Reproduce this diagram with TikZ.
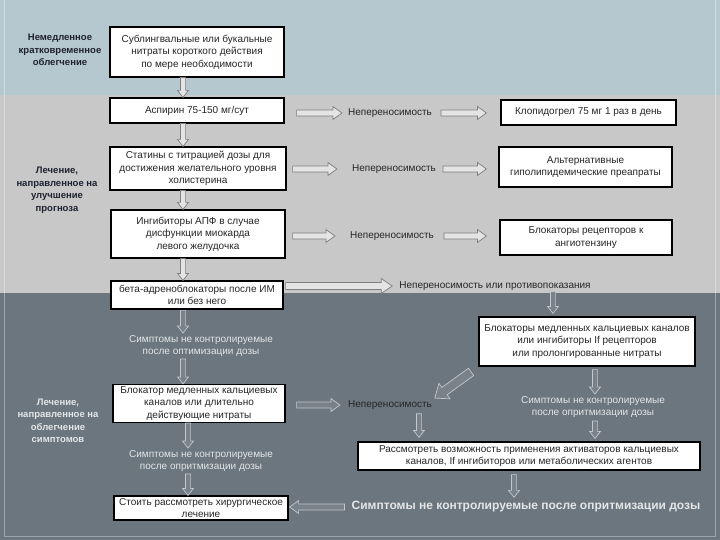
\documentclass[tikz,border=0pt]{standalone}
\usepackage{fontspec}
\setmainfont{Liberation Sans}
\usetikzlibrary{calc}
\definecolor{bandtop}{HTML}{B5C7CF}
\definecolor{bandmid}{HTML}{C8C8C8}
\definecolor{bandbot}{HTML}{6B767E}
\definecolor{boxtext}{HTML}{262626}
\definecolor{lbl}{HTML}{1E2230}
\definecolor{lighttext}{HTML}{E4E6E8}
\definecolor{arrLdraw}{HTML}{7E7E7E}
\definecolor{arrLfill}{HTML}{E4E4E4}
\definecolor{arrDdraw}{HTML}{C4C8CC}
\definecolor{arrDfill}{HTML}{78828A}
\tikzset{
  box/.style={draw=black, fill=white, line width=1.2pt, align=center, inner sep=2pt,
    text=boxtext, font=\fontsize{10}{12.5}\selectfont},
  note/.style={align=center, inner sep=1pt, text=boxtext, font=\fontsize{10}{12.5}\selectfont},
  whitenote/.style={note, text=lighttext},
  sidelabel/.style={align=center, inner sep=1pt, text=lbl, font=\bfseries\fontsize{9.5}{12.5}\selectfont},
  arrL/.style={draw=arrLdraw, fill=arrLfill, line width=0.7pt},
  arrD/.style={draw=arrDdraw, fill=arrDfill, line width=0.7pt},
  blk/.style n args={5}{to path={
    let \p1=(\tikztostart), \p2=(\tikztotarget),
        \n1={atan2(\y2-\y1,\x2-\x1)}, \n2={veclen(\x2-\x1,\y2-\y1)} in
    ($(\p1)+(\n1:#1)+({\n1+90}:#3)$) --
    ($(\p1)+(\n1:{\n2*1pt-#2-#5})+({\n1+90}:#3)$) --
    ($(\p1)+(\n1:{\n2*1pt-#2-#5})+({\n1+90}:#4)$) --
    ($(\p1)+(\n1:{\n2*1pt-#2})$) --
    ($(\p1)+(\n1:{\n2*1pt-#2-#5})+({\n1-90}:#4)$) --
    ($(\p1)+(\n1:{\n2*1pt-#2-#5})+({\n1-90}:#3)$) --
    ($(\p1)+(\n1:#1)+({\n1-90}:#3)$) -- cycle}},
  hA/.style 2 args={blk={#1}{#2}{3pt}{6.5pt}{9pt}},
  vA/.style 2 args={blk={#1}{#2}{2.6pt}{5.5pt}{7pt}},
  wA/.style 2 args={blk={#1}{#2}{4.5pt}{9.5pt}{12pt}}
}
\begin{document}
\begin{tikzpicture}[x=1pt,y=-1pt]
\useasboundingbox (0,0) rectangle (720,540);
% bands
\fill[bandtop] (0,0) rectangle (720,95);
\fill[bandmid] (0,95) rectangle (720,293);
\fill[bandbot] (0,293) rectangle (720,540);
\draw[white, opacity=0.35, line width=0.8pt] (4,0) -- (4,536) -- (715,536) -- (715,0);

% column coordinates
\coordinate (colA) at (183,0);
\coordinate (colB) at (188,0);
\coordinate (colC) at (553,0);
\coordinate (colD) at (419,0);
\coordinate (colE) at (595,0);
\coordinate (colF) at (514,0);

% side labels
\node[sidelabel] (L1) at (60,50) {Немедленное\\кратковременное\\облегчение};
\node[sidelabel] (L2) at (57,190) {Лечение,\\направленное на\\улучшение\\прогноза};
\node[sidelabel, text=lighttext] (L3) at (58,421) {Лечение,\\направленное на\\облегчение\\симптомов};

% left column boxes
\node[box, minimum width=174pt, minimum height=50pt] (b1) at (197,52)
  {Сублингвальные или букальные\\нитраты короткого действия\\по мере необходимости};
\node[box, minimum width=174pt, minimum height=25pt] (b2) at (197,110.5)
  {Аспирин 75-150 мг/сут};
\node[box, minimum width=176pt, minimum height=43pt] (b3) at (198,168.5)
  {Статины с титрацией дозы для\\достижения желательного уровня\\холистерина};
\node[box, minimum width=174pt, minimum height=48pt] (b4) at (198,234)
  {Ингибиторы АПФ в случае\\дисфункции миокарда\\левого желудочка};
\node[box, minimum width=172pt, minimum height=28pt] (b5) at (197,295)
  {бета-адреноблокаторы после ИМ\\или без него};
\node[box, minimum width=172pt, minimum height=37pt] (b10) at (199,403.5)
  {Блокатор медленных кальциевых\\каналов или длительно\\действующие нитраты};
\node[box, minimum width=174pt, minimum height=24pt] (b12) at (201,508)
  {Стоить рассмотреть хирургическое\\лечение};

% right column boxes
\node[box, minimum width=175pt, minimum height=25pt] (b6) at (588.5,112.5)
  {Клопидогрел 75 мг 1 раз в день};
\node[box, minimum width=173pt, minimum height=40pt] (b7) at (585.5,167)
  {Альтернативные\\гиполипидемические преапраты};
\node[box, minimum width=172pt, minimum height=35pt] (b8) at (586,237.5)
  {Блокаторы рецепторов к\\ангиотензину};
\node[box, minimum width=216pt, minimum height=49pt] (b9) at (587,341.5)
  {Блокаторы медленных кальциевых каналов\\или ингибиторы If рецепторов\\или пролонгированные нитраты};
\node[box, minimum width=342pt, minimum height=28pt] (b11) at (529,456)
  {Рассмотреть возможность применения активаторов кальциевых\\каналов, If ингибиторов или метаболических агентов};

% free texts
\node[note] (t1) at (390,113) {Непереносимость};
\node[note] (t2) at (394,169) {Непереносимость};
\node[note] (t3) at (392,236) {Непереносимость};
\node[note] (t4) at (495,286) {Непереносимость или противопоказания};
\node[whitenote] (t5) at (201,346) {Симптомы не контролируемые\\после оптимизации дозы};
\node[note] (t6) at (390,405) {Непереносимость};
\node[whitenote] (t7) at (593,407) {Симптомы не контролируемые\\после опритмизации дозы};
\node[whitenote] (t8) at (201,461) {Симптомы не контролируемые\\после опритмизации дозы};
\node[whitenote, font=\bfseries\fontsize{12}{13}\selectfont] (t9) at (526,507)
  {Симптомы не контролируемые после опритмизации дозы};

% vertical arrows, left column
\draw[arrL] (b1.south -| colA) to[vA={0pt}{0pt}] (b2.north -| colA);
\draw[arrL] (b2.south -| colA) to[vA={0pt}{0pt}] (b3.north -| colA);
\draw[arrL] (b3.south -| colA) to[vA={0pt}{0pt}] (b4.north -| colA);
\draw[arrL] (b4.south -| colA) to[vA={0pt}{0pt}] (b5.north -| colA);
\draw[arrD] (b5.south -| colA) to[vA={1pt}{1pt}] (t5.north -| colA);
\draw[arrD] (t5.south -| colA) to[vA={1pt}{0pt}] (b10.north -| colA);
\draw[arrD] (b10.south -| colB) to[vA={0pt}{1pt}] (t8.north -| colB);
\draw[arrD] (t8.south -| colB) to[vA={1pt}{0pt}] (b12.north -| colB);

% horizontal arrows
\draw[arrL] (b2.east |- t1.west) to[hA={12pt}{5pt}] (t1.west);
\draw[arrL] (t1.east) to[hA={8pt}{14pt}] (b6.west |- t1.east);
\draw[arrL] (b3.east |- t2.west) to[hA={6pt}{14pt}] (t2.west);
\draw[arrL] (t2.east) to[hA={6pt}{12pt}] (b7.west |- t2.east);
\draw[arrL] (b4.east |- t3.west) to[hA={7pt}{14pt}] (t3.west);
\draw[arrL] (t3.east) to[hA={9pt}{13pt}] (b8.west |- t3.east);
\draw[arrL] (b5.east |- t4.west) to[blk={2pt}{6pt}{3.5pt}{7.5pt}{11pt}] (t4.west);

% right side flow
\draw[arrD] (t4.south -| colC) to[vA={0pt}{3pt}] (b9.north -| colC);
\draw[arrD] (b9.south west) to[wA={9pt}{2pt}] (t6.north east);
\draw[arrD] (b10.east |- t6.west) to[hA={11pt}{7pt}] (t6.west);
\draw[arrD] (t6.south -| colD) to[vA={3pt}{4pt}] (b11.north -| colD);
\draw[arrD] (b9.south -| colE) to[vA={3pt}{1pt}] (t7.north -| colE);
\draw[arrD] (t7.south -| colE) to[vA={2pt}{3pt}] (b11.north -| colE);
\draw[arrD] (b11.south -| colF) to[vA={4pt}{3pt}] (t9.north -| colF);
\draw[arrD] (t9.west) to[hA={6pt}{1pt}] (b12.east |- t9.west);
\end{tikzpicture}
\end{document}
